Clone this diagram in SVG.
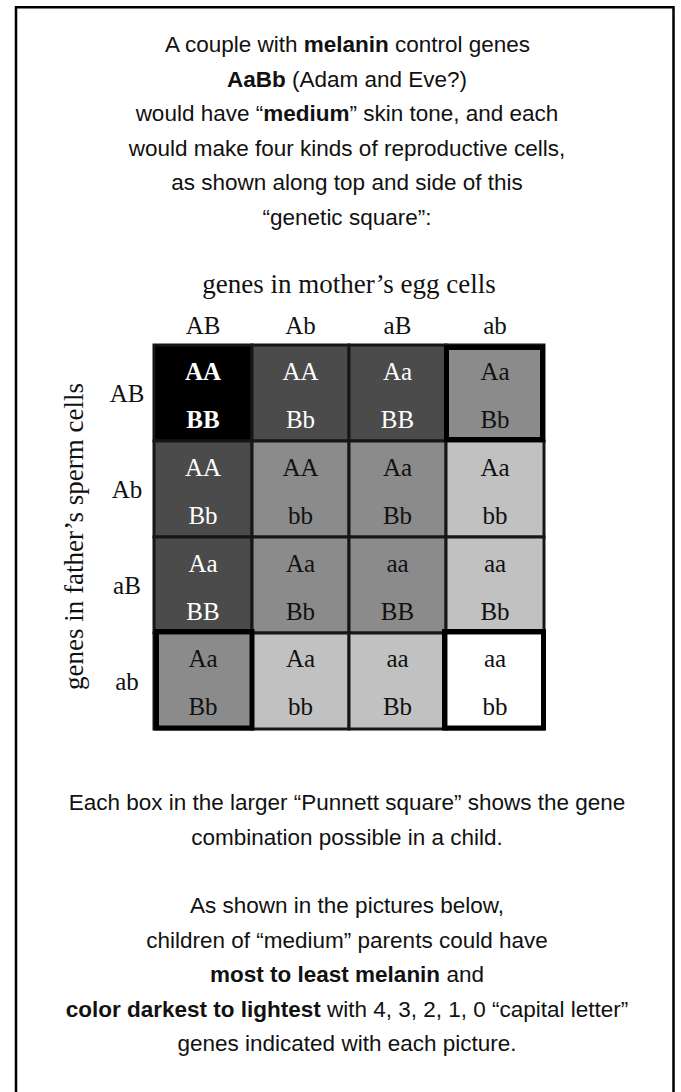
<svg xmlns="http://www.w3.org/2000/svg" width="681" height="1092" viewBox="0 0 681 1092">
<style>
.t{font-family:"Liberation Sans",Arial,sans-serif;font-size:22.5px;fill:#111;text-anchor:middle}
.b{font-weight:bold}
.s{font-family:"Liberation Serif","Times New Roman",serif;font-size:25px;text-anchor:middle;fill:#111}
.lbl{font-size:27px}
.cell{stroke:#161616;stroke-width:3}
.thick{fill:none;stroke:#000;stroke-width:5}
.w{fill:#fff}
</style>
<rect width="681" height="1092" fill="#fff"/>
<path d="M16,1092 V7.25 H673.5 V1092" fill="none" stroke="#000" stroke-width="2.5"/>
<g id="intro-text">
<text class="t" x="347.5" y="52">A couple with <tspan class="b">melanin</tspan> control genes</text>
<text class="t" x="347" y="86.5"><tspan class="b">AaBb</tspan> (Adam and Eve?)</text>
<text class="t" x="347" y="121">would have “<tspan class="b">medium</tspan>” skin tone, and each</text>
<text class="t" x="347" y="155.5">would make four kinds of reproductive cells,</text>
<text class="t" x="347" y="190">as shown along top and side of this</text>
<text class="t" x="347" y="224.5">“genetic square”:</text>
</g>
<g id="axis-labels">
<text class="s lbl" x="349" y="293">genes in mother’s egg cells</text>
<text class="s lbl" x="83" y="536.5" transform="rotate(-90 83 536.5)">genes in father’s sperm cells</text>
<text class="s" x="203" y="334">AB</text>
<text class="s" x="300.5" y="334">Ab</text>
<text class="s" x="397.5" y="334">aB</text>
<text class="s" x="495" y="334">ab</text>
<text class="s" x="127" y="402">AB</text>
<text class="s" x="127" y="498">Ab</text>
<text class="s" x="127" y="594">aB</text>
<text class="s" x="127" y="690">ab</text>
</g>
<g id="grid">
<g id="r1">
<rect class="cell" x="154" y="345" width="98" height="96" fill="#000"/>
<text class="s w b" x="203" y="380">AA</text><text class="s w b" x="203" y="428">BB</text>
<rect class="cell" x="252" y="345" width="97" height="96" fill="#4b4b4b"/>
<text class="s w" x="300.5" y="380">AA</text><text class="s w" x="300.5" y="428">Bb</text>
<rect class="cell" x="349" y="345" width="97" height="96" fill="#4b4b4b"/>
<text class="s w" x="397.5" y="380">Aa</text><text class="s w" x="397.5" y="428">BB</text>
<rect class="cell" x="446" y="345" width="98" height="96" fill="#8b8b8b"/>
<text class="s" x="495" y="380">Aa</text><text class="s" x="495" y="428">Bb</text>
</g>
<g id="r2">
<rect class="cell" x="154" y="441" width="98" height="96" fill="#4b4b4b"/>
<text class="s w" x="203" y="476">AA</text><text class="s w" x="203" y="524">Bb</text>
<rect class="cell" x="252" y="441" width="97" height="96" fill="#8b8b8b"/>
<text class="s" x="300.5" y="476">AA</text><text class="s" x="300.5" y="524">bb</text>
<rect class="cell" x="349" y="441" width="97" height="96" fill="#8b8b8b"/>
<text class="s" x="397.5" y="476">Aa</text><text class="s" x="397.5" y="524">Bb</text>
<rect class="cell" x="446" y="441" width="98" height="96" fill="#c1c1c1"/>
<text class="s" x="495" y="476">Aa</text><text class="s" x="495" y="524">bb</text>
</g>
<g id="r3">
<rect class="cell" x="154" y="537" width="98" height="96" fill="#4b4b4b"/>
<text class="s w" x="203" y="572">Aa</text><text class="s w" x="203" y="620">BB</text>
<rect class="cell" x="252" y="537" width="97" height="96" fill="#8b8b8b"/>
<text class="s" x="300.5" y="572">Aa</text><text class="s" x="300.5" y="620">Bb</text>
<rect class="cell" x="349" y="537" width="97" height="96" fill="#8b8b8b"/>
<text class="s" x="397.5" y="572">aa</text><text class="s" x="397.5" y="620">BB</text>
<rect class="cell" x="446" y="537" width="98" height="96" fill="#c1c1c1"/>
<text class="s" x="495" y="572">aa</text><text class="s" x="495" y="620">Bb</text>
</g>
<g id="r4">
<rect class="cell" x="154" y="633" width="98" height="96" fill="#8b8b8b"/>
<text class="s" x="203" y="667">Aa</text><text class="s" x="203" y="715">Bb</text>
<rect class="cell" x="252" y="633" width="97" height="96" fill="#c1c1c1"/>
<text class="s" x="300.5" y="667">Aa</text><text class="s" x="300.5" y="715">bb</text>
<rect class="cell" x="349" y="633" width="97" height="96" fill="#c1c1c1"/>
<text class="s" x="397.5" y="667">aa</text><text class="s" x="397.5" y="715">Bb</text>
<rect class="cell" x="446" y="633" width="98" height="96" fill="#fff"/>
<text class="s" x="495" y="667">aa</text><text class="s" x="495" y="715">bb</text>
</g>
<rect class="thick" x="446.5" y="347.5" width="96" height="92"/>
<rect class="thick" x="156.5" y="631.5" width="95.5" height="96.5"/>
<rect class="thick" x="444.5" y="631.5" width="99" height="96.5"/>
</g>
<g id="outro-text">
<text class="t" x="347" y="810">Each box in the larger “Punnett square” shows the gene</text>
<text class="t" x="347" y="844.5">combination possible in a child.</text>
<text class="t" x="347" y="913">As shown in the pictures below,</text>
<text class="t" x="347" y="947.5">children of “medium” parents could have</text>
<text class="t" x="347" y="982"><tspan class="b">most to least melanin</tspan> and</text>
<text class="t" x="347" y="1016.5"><tspan class="b">color darkest to lightest</tspan> with 4, 3, 2, 1, 0 “capital letter”</text>
<text class="t" x="347" y="1051">genes indicated with each picture.</text>
</g>
</svg>
